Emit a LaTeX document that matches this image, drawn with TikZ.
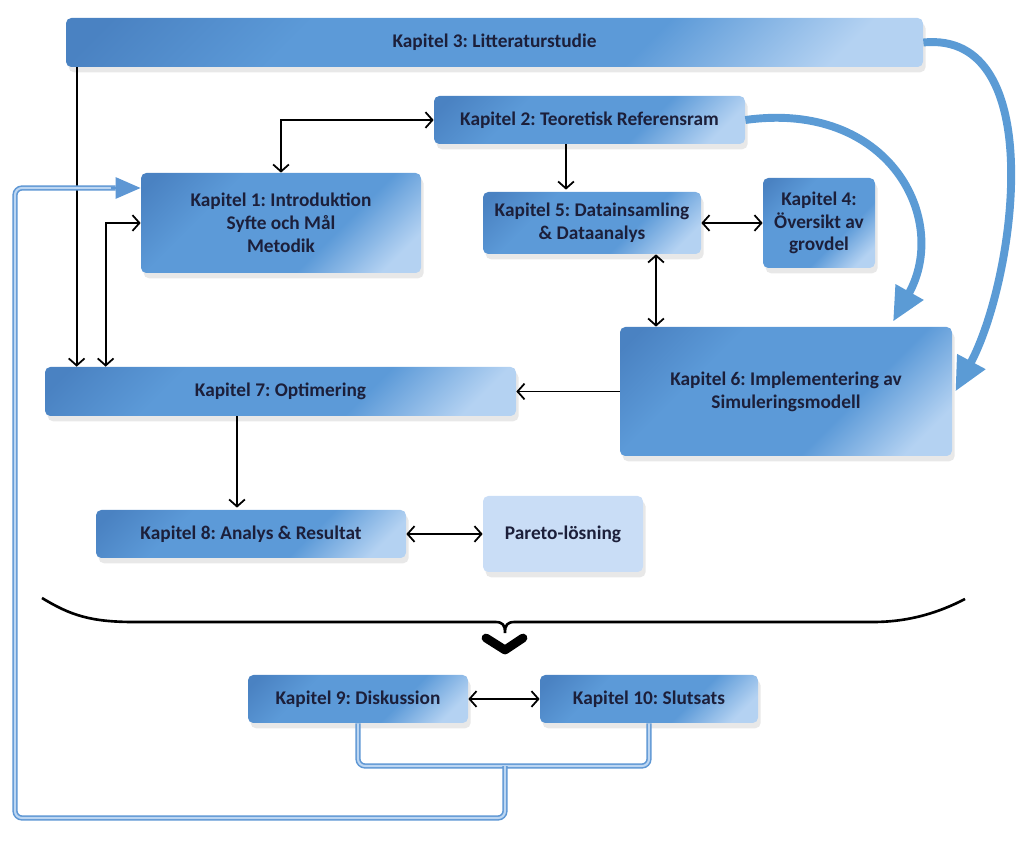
\documentclass[tikz,border=0pt]{standalone}
\usepackage{fontspec}
\setmainfont{Carlito}
\frenchspacing
\usetikzlibrary{arrows.meta,shadows}

\definecolor{kaptop}{HTML}{4A82C2}
\definecolor{kapmid}{HTML}{5C9AD8}
\definecolor{kapbot}{HTML}{B4D2F2}
\definecolor{kaptext}{HTML}{1C1F3A}
\definecolor{paretofill}{HTML}{C9DDF6}
\definecolor{bigblue}{HTML}{5B9BD5}
\definecolor{fbblue}{HTML}{5E97D4}
\definecolor{fblight}{HTML}{BCD6F2}

\pgfdeclareverticalshading{kapshade}{100bp}{color(0bp)=(kapbot); color(22bp)=(kapbot);
  color(38bp)=(kapmid); color(66bp)=(kapmid); color(82bp)=(kaptop); color(100bp)=(kaptop)}

\tikzset{
  kapbase/.style={rounded corners=3pt,
    drop shadow={opacity=0.18, shadow xshift=1.5pt, shadow yshift=-3pt},
    text=kaptext, font=\bfseries\fontsize{11}{13}\selectfont, align=center,
    inner sep=2pt},
  kap/.style={kapbase, shade, shading=kapshade, shading angle=45},
  pareto/.style={kapbase, fill=paretofill},
  link/.style={line width=1pt},
  bigarrow/.style={draw=bigblue, line width=4.5pt,
    -{Triangle[length=0.68cm,width=0.6cm]}},
  fb/.style={draw=fbblue, line width=0.9pt, double=fblight,
    double distance=1.2pt, rounded corners=4pt},
}

\begin{document}
\begin{tikzpicture}[>={Straight Barb[length=4pt,width=9pt]}]
  \useasboundingbox (0,0) rectangle (20.48,-16.92);

  % chapters
  \node[kap, minimum width=17.14cm, minimum height=0.98cm] (k3) at (9.89,-0.85) {Kapitel 3: Litteraturstudie};
  \node[kap, minimum width=6.22cm, minimum height=0.96cm] (k2) at (11.79,-2.40) {Kapitel 2: Teoretisk Referensram};
  \node[kap, minimum width=5.6cm, minimum height=2.0cm] (k1) at (5.62,-4.46) {Kapitel 1: Introduktion\\Syfte och Mål\\Metodik};
  \node[kap, minimum width=4.36cm, minimum height=1.24cm] (k5) at (11.84,-4.46) {Kapitel 5: Datainsamling\\\& Dataanalys};
  \node[kap, minimum width=2.24cm, minimum height=1.8cm] (k4) at (16.38,-4.46) {Kapitel 4:\\Översikt av\\grovdel};
  \node[kap, minimum width=6.64cm, minimum height=2.58cm] (k6) at (15.72,-7.83) {Kapitel 6: Implementering av\\Simuleringsmodell};
  \node[kap, minimum width=9.42cm, minimum height=0.98cm] (k7) at (5.61,-7.83) {Kapitel 7: Optimering};
  \node[kap, minimum width=6.2cm, minimum height=0.96cm] (k8) at (5.02,-10.68) {Kapitel 8: Analys \& Resultat};
  \node[pareto, minimum width=3.2cm, minimum height=1.52cm] (pareto) at (11.26,-10.68) {Pareto-lösning};
  \node[kap, minimum width=4.4cm, minimum height=0.96cm] (k9) at (7.16,-13.98) {Kapitel 9: Diskussion};
  \node[kap, minimum width=4.36cm, minimum height=0.96cm] (k10) at (12.98,-13.98) {Kapitel 10: Slutsats};

  % helper points
  \coordinate (a) at ([xshift=0.64cm]k7.north west);
  \coordinate (b) at ([xshift=1.22cm]k7.north west);
  \coordinate (c) at (11.32,0);
  \coordinate (d) at (13.12,0);
  \coordinate (e) at (4.74,0);

  % thin links
  \draw[link,->] (a |- k3.south) -- (a);
  \draw[link,<->] (b) |- (k1.west);
  \draw[link,<->] (k2.west) -| (k1.north);
  \draw[link,->] (k2.south -| c) -- ([yshift=0.04cm]k5.north -| c);
  \draw[link,<->] (k5.east) -- (k4.west);
  \draw[link,<->] (k5.south -| d) -- (k6.north -| d);
  \draw[link,->] (k6.west) -- (k7.east);
  \draw[link,->] (k7.south -| e) -- ([yshift=0.04cm]k8.north -| e);
  \draw[link,<->] (k8.east) -- (pareto.west);
  \draw[link,<->] (k9.east) -- (k10.west);

  % big blue arrows
  \coordinate (g1) at ([xshift=2.14cm,yshift=0.1cm]k6.north);
  \coordinate (g2) at ([xshift=0.06cm]k6.east);
  \draw[bigarrow] (k2.east) .. controls (17.8,-2.0) and (19.0,-4.4) .. (g1);
  \draw[bigarrow] (k3.east) .. controls (21.0,-0.6) and (20.3,-5.6) .. (g2);

  % brace and chevron
  \draw[line width=1.5pt] (0.84,-11.96) .. controls (1.4,-12.3) and (1.8,-12.44) .. (2.68,-12.44)
    -- (9.9,-12.44) .. controls (10.06,-12.44) and (10.1,-12.5) .. (10.1,-12.66)
    .. controls (10.1,-12.5) and (10.14,-12.44) .. (10.3,-12.44)
    -- (17.46,-12.44) .. controls (18.2,-12.44) and (18.8,-12.24) .. (19.3,-11.98);
  \draw[line width=5pt, line cap=round, line join=round] (9.72,-12.76) -- (10.1,-13.0) -- (10.46,-12.76);

  % feedback loop
  \coordinate (f1) at (10.1,-15.32);
  \coordinate (f2) at (0.3,-16.36);
  \coordinate (f3) at ([yshift=0.7cm]k1.west);
  \draw[fb] (k9.south) |- (f1) -| (k10.south);
  \draw[fb] (f1) |- (f2) |- ([xshift=-0.5cm]f3);
  \draw[draw=fbblue, line width=1.6pt, -{Triangle[length=0.5cm,width=0.42cm]}] ([xshift=-0.6cm]f3) -- (f3);
\end{tikzpicture}
\end{document}
